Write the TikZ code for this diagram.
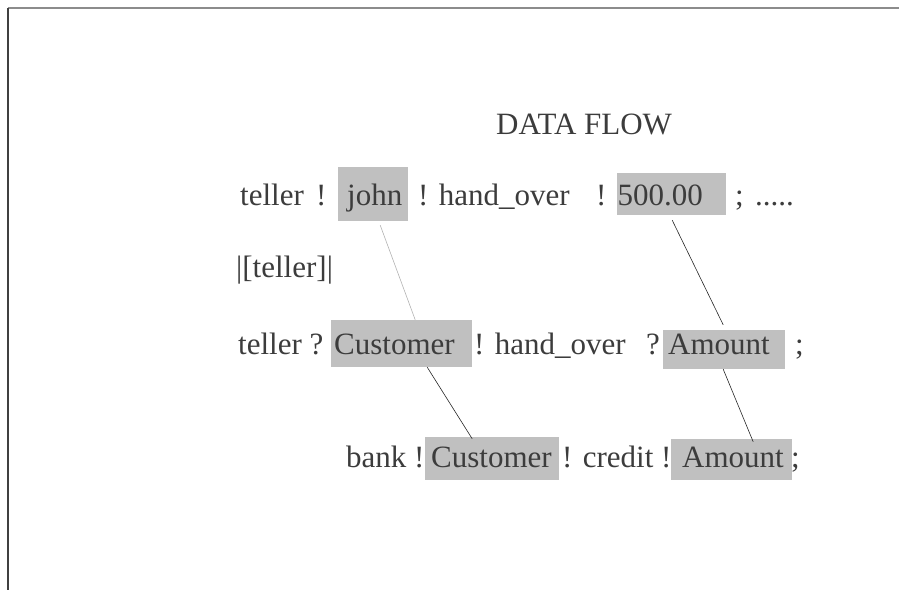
\documentclass[tikz,border=0pt]{standalone}
\usepackage{fontspec}
\setmainfont{Liberation Serif}
\definecolor{slotgray}{RGB}{192,192,192}
\definecolor{inkgray}{RGB}{60,60,60}
\tikzset{
    word/.style = {
        anchor=base west,
        inner sep=0pt,
        text=inkgray,
        font=\fontsize{31}{37}\selectfont,
    },
    slot/.style = {word, fill=slotgray, align=left},
    flow/.style = {line width=0.6pt, draw=black!85}
}

\begin{document}
\begin{tikzpicture}[x=1pt, y=-1pt]
  \useasboundingbox (0,0) rectangle (899,590);

  % frame edges
  \draw[line width=1.5pt, draw=black!45] (8,8) -- (899,8);
  \draw[line width=1.5pt, draw=black!75] (8,8) -- (8,590);

  \node[word] (title) at (496,134) {DATA FLOW};

  % first line: the sending side
  \node[word] (w1) at (240,205) {teller};
  \node[word] (w2) at (316,205) {!};
  \node[slot, inner xsep=9pt, text width=52pt, text height=38pt, text depth=16pt] (john) at (338,205) {john};
  \node[word] (w3) at (418,205) {! hand\_over};
  \node[word] (w4) at (596,205) {!};
  \node[slot, inner xsep=0.5pt, text width=108pt, text height=32pt, text depth=10pt] (num) at (617,205) {500.00};
  \node[word] (w5) at (735,205) {;};
  \node[word] (w6) at (755,205) {.....};

  % second line
  \node[word] (w7) at (236,277) {|[teller]|};

  % third line: the receiving side
  \node[word] (w8) at (238,354) {teller ?};
  \node[slot, inner xsep=3pt, text width=135pt, text height=34pt, text depth=13pt] (cust1) at (331,354) {Customer};
  \node[word] (w9) at (474,354) {! hand\_over};
  \node[word] (w10) at (646,354) {?};
  \node[slot, inner xsep=5pt, text width=112pt, text height=24pt, text depth=15pt] (amt1) at (663,354) {Amount};
  \node[word] (w11) at (795,354) {;};

  % fourth line: passed on to the bank
  \node[word] (w12) at (346,467) {bank !};
  \node[slot, inner xsep=6pt, text width=122pt, text height=30pt, text depth=13pt] (cust2) at (425,467) {Customer};
  \node[word] (w13) at (562,467) {! credit !};
  \node[slot, inner xsep=11pt, text width=99pt, text height=28pt, text depth=13pt] (amt2) at (671,467) {Amount};
  \node[word] (w14) at (791,467) {;};

  % value links
  \draw[flow, draw=black!30] ([xshift=7pt,yshift=-4pt]john.south) -- ([xshift=13.5pt]cust1.north);
  \draw[flow] ([xshift=25.5pt]cust1.south) -- ([xshift=-20pt,yshift=-2pt]cust2.north);
  \draw[flow] ([xshift=0.5pt,yshift=-5pt]num.south) -- ([xshift=-1pt,yshift=5pt]amt1.north);
  \draw[flow] ([xshift=-1pt]amt1.south) -- ([xshift=21.5pt,yshift=-3pt]amt2.north);

\end{tikzpicture}
\end{document}
